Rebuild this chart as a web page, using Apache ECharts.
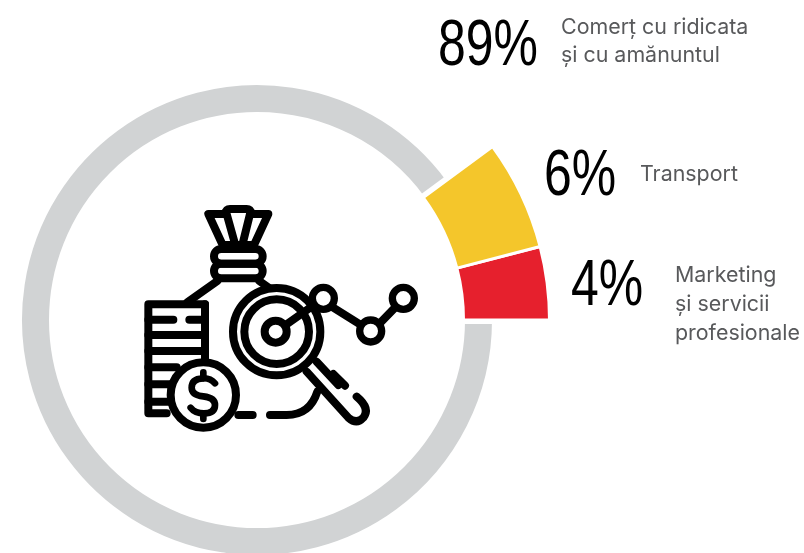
<!DOCTYPE html>
<html><head><meta charset="utf-8">
<style>html,body{margin:0;padding:0;background:#fff}#c{width:804px;height:553px}</style>
<script src="https://cdn.jsdelivr.net/npm/echarts@6/dist/echarts.min.js"></script>
</head><body><div id="c"></div>
<script>
const categories = ['Marketing și servicii profesionale', 'Transport', 'Comerț cu ridicata și cu amănuntul'];
const values = [4, 6, 89];
const percentLabels = ['4%', '6%', '89%'];
const descriptionLines = [['Marketing', 'și servicii', 'profesionale'], ['Transport'], ['Comerț cu ridicata', 'și cu amănuntul']];
const colors = ['#e6202d', '#f4c62b', '#d1d3d4'];

const chart = echarts.init(document.getElementById('c'), null, {renderer: 'canvas'});
const ringIndex = 2;
const cx = 257, cy = 320;

const anchors = [[571, 305, 675, 283, 29], [544, 195, 640, 182, 29], [438, 65, 561, 35, 28]];
const textEls = [];
anchors.forEach((a, i) => {
  textEls.push({type: 'text', x: a[0], y: a[1] - 50, scaleX: 0.78, z: 10,
    style: {text: percentLabels[i], fill: '#000', font: '64px "Liberation Sans"'}});
  descriptionLines[i].forEach((ln, k) => {
    textEls.push({type: 'text', x: a[2], y: a[3] + k * a[4] - 18, z: 10,
      style: {text: ln, fill: '#58595b', font: '21.4px Inter'}});
  });
});

const S = {fill: 'none', stroke: '#000', lineWidth: 24, lineCap: 'round', lineJoin: 'round'};
const p = (d, extra) => ({type: 'path', shape: {pathData: d}, style: Object.assign({}, S, extra || {})});
const c = (x, y, r, extra) => ({type: 'circle', shape: {cx: x, cy: y, r}, style: Object.assign({}, S, extra || {})});
const rr = (x, y, w, h, r) => ({type: 'rect', shape: {x, y, width: w, height: h, r}, style: Object.assign({}, S)});

const iconChildren = [
    p('M235 57 H285 Q288 42 300 42 H350 Q362 42 365 57 H415 L372 150 H278 Z'),
    p('M290 57 L316 150 M360 57 L337 150'),
    rr(252, 162, 146, 44, 22), rr(252, 206, 146, 44, 22),
    p('M262 258 L172 322 M388 258 L425 284'),
    p('M225 328 H55 V655 H110'),
    p('M225 328 V490'),
    p('M55 374 H130 M178 374 H225 M55 420 H225 M55 468 H225 M55 517 H140 M55 568 H125 M55 620 H125'),
    c(220, 600, 98, {fill: '#fff'}),
    p('M255 565 Q240 548 218 550 Q185 552 185 578 Q185 600 220 604 Q255 608 255 630 Q255 655 222 655 Q195 655 182 638', {lineWidth: 20}),
    p('M220 532 V550 M220 655 V672', {lineWidth: 20}),
    p('M325 660 H368 M420 660 H470 Q540 660 562 590'),
    c(440, 410, 131, {fill: '#fff'}),
    c(440, 410, 97),
    c(437, 410, 33),
    p('M470 388 L555 328'),
    p('M605 335 L690 388 M752 382 L795 338'),
    c(580, 310, 33, {fill: '#fff', lineWidth: 22}),
    c(722, 408, 33, {fill: '#fff', lineWidth: 22}),
    c(820, 310, 33, {fill: '#fff', lineWidth: 22}),
    p('M530 530 L655 668 Q680 690 700 668 Q722 640 680 605'),
    p('M560 500 L625 570 M610 537 L645 572')
];

chart.setOption({
  animation: false,
  tooltip: {show: false},
  series: [
    {
      type: 'pie', name: 'ring', center: [cx, cy], radius: [204, 239], startAngle: 0, clockwise: false,
      silent: true, label: {show: false}, labelLine: {show: false}, z: 1,
      data: values.map((v, i) => ({
        name: categories[i], value: v,
        itemStyle: i === ringIndex ? {color: colors[i], borderColor: '#fff', borderWidth: 8} : {color: 'transparent', borderWidth: 0}
      }))
    },
    {
      type: 'pie', name: 'accent', center: [cx, cy], radius: [206.5, 292.5], startAngle: 0, clockwise: false,
      silent: true, label: {show: false}, labelLine: {show: false}, z: 2,
      data: values.map((v, i) => ({
        name: categories[i], value: v,
        itemStyle: i !== ringIndex ? {color: colors[i], borderColor: '#fff', borderWidth: 3} : {color: 'transparent', borderWidth: 0}
      }))
    },
    {
      type: 'custom', name: 'icon', coordinateSystem: 'none', silent: true, z: 9, data: [[0]],
      renderItem: () => ({type: 'group', x: 130, y: 195, scaleX: 1 / 3, scaleY: 1 / 3, children: iconChildren})
    }
  ],
  graphic: {elements: textEls}
});
</script></body></html>
